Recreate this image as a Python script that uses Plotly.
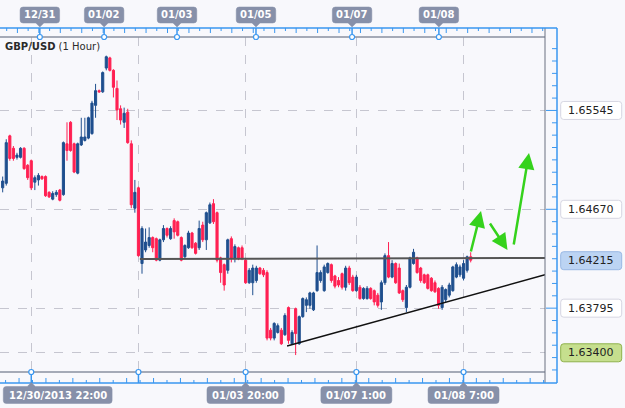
import plotly.graph_objects as go

# ---------------- data (GBP/USD, 1 hour bars) ----------------
bar_index = list(range(132))
open_ = [1.6486, 1.6490, 1.6532, 1.6521, 1.6513, 1.6513, 1.6521, 1.6506, 1.6510, 1.6491,
         1.6493, 1.6496, 1.6496, 1.6482, 1.6476, 1.6480, 1.6484, 1.6480, 1.6525, 1.6544,
         1.6525, 1.6499, 1.6524, 1.6528, 1.6530, 1.6534, 1.6559, 1.6572, 1.6571, 1.6592,
         1.6601, 1.6590, 1.6574, 1.6556, 1.6544, 1.6553, 1.6525, 1.6468, 1.6486, 1.6419,
         1.6431, 1.6435, 1.6442, 1.6441, 1.6422, 1.6440, 1.6450, 1.6441, 1.6457, 1.6456,
         1.6442, 1.6425, 1.6433, 1.6446, 1.6437, 1.6433, 1.6453, 1.6440, 1.6455, 1.6472,
         1.6464, 1.6424, 1.6418, 1.6413, 1.6441, 1.6424, 1.6433, 1.6433, 1.6422, 1.6402,
         1.6402, 1.6404, 1.6415, 1.6413, 1.6411, 1.6360, 1.6353, 1.6358, 1.6360, 1.6356,
         1.6380, 1.6348, 1.6379, 1.6348, 1.6372, 1.6382, 1.6382, 1.6378, 1.6395, 1.6404,
         1.6395, 1.6411, 1.6418, 1.6408, 1.6404, 1.6410, 1.6398, 1.6415, 1.6407, 1.6395,
         1.6398, 1.6388, 1.6388, 1.6397, 1.6395, 1.6391, 1.6385, 1.6402, 1.6426, 1.6407,
         1.6419, 1.6415, 1.6395, 1.6380, 1.6398, 1.6419, 1.6424, 1.6415, 1.6409, 1.6409,
         1.6406, 1.6402, 1.6397, 1.6380, 1.6387, 1.6391, 1.6395, 1.6407, 1.6409, 1.6406,
         1.6413, 1.6425]
high = [1.6496, 1.6529, 1.6533, 1.6523, 1.6517, 1.6522, 1.6522, 1.6507, 1.6511, 1.6497,
        1.6499, 1.6497, 1.6497, 1.6483, 1.6483, 1.6484, 1.6485, 1.6527, 1.6544, 1.6545,
        1.6526, 1.6526, 1.6548, 1.6548, 1.6549, 1.6563, 1.6578, 1.6573, 1.6589, 1.6603,
        1.6602, 1.6591, 1.6581, 1.6559, 1.6557, 1.6556, 1.6528, 1.6493, 1.6487, 1.6452,
        1.6450, 1.6451, 1.6443, 1.6442, 1.6441, 1.6453, 1.6451, 1.6452, 1.6459, 1.6457,
        1.6443, 1.6436, 1.6448, 1.6447, 1.6438, 1.6457, 1.6456, 1.6465, 1.6473, 1.6476,
        1.6465, 1.6425, 1.6419, 1.6441, 1.6443, 1.6436, 1.6434, 1.6435, 1.6424, 1.6415,
        1.6418, 1.6417, 1.6416, 1.6415, 1.6413, 1.6362, 1.6367, 1.6366, 1.6362, 1.6375,
        1.6381, 1.6360, 1.6380, 1.6373, 1.6389, 1.6389, 1.6394, 1.6394, 1.6435, 1.6413,
        1.6418, 1.6420, 1.6419, 1.6409, 1.6407, 1.6411, 1.6417, 1.6417, 1.6409, 1.6409,
        1.6400, 1.6398, 1.6399, 1.6398, 1.6396, 1.6393, 1.6404, 1.6428, 1.6438, 1.6422,
        1.6420, 1.6419, 1.6396, 1.6400, 1.6425, 1.6432, 1.6425, 1.6416, 1.6410, 1.6410,
        1.6407, 1.6404, 1.6398, 1.6400, 1.6397, 1.6402, 1.6417, 1.6420, 1.6418, 1.6422,
        1.6426, 1.6429]
low = [1.6482, 1.6488, 1.6510, 1.6510, 1.6511, 1.6512, 1.6502, 1.6493, 1.6484, 1.6484,
       1.6488, 1.6493, 1.6478, 1.6477, 1.6475, 1.6478, 1.6474, 1.6479, 1.6510, 1.6518,
       1.6499, 1.6498, 1.6523, 1.6527, 1.6529, 1.6533, 1.6548, 1.6570, 1.6570, 1.6590,
       1.6589, 1.6566, 1.6546, 1.6542, 1.6539, 1.6525, 1.6468, 1.6464, 1.6425, 1.6410,
       1.6429, 1.6433, 1.6429, 1.6421, 1.6421, 1.6438, 1.6442, 1.6440, 1.6441, 1.6443,
       1.6421, 1.6424, 1.6432, 1.6432, 1.6427, 1.6431, 1.6438, 1.6431, 1.6454, 1.6454,
       1.6420, 1.6402, 1.6395, 1.6410, 1.6420, 1.6420, 1.6422, 1.6422, 1.6401, 1.6401,
       1.6391, 1.6402, 1.6409, 1.6407, 1.6351, 1.6351, 1.6351, 1.6357, 1.6347, 1.6355,
       1.6348, 1.6347, 1.6338, 1.6347, 1.6371, 1.6376, 1.6379, 1.6377, 1.6394, 1.6402,
       1.6394, 1.6410, 1.6402, 1.6397, 1.6398, 1.6396, 1.6395, 1.6400, 1.6394, 1.6394,
       1.6387, 1.6387, 1.6387, 1.6387, 1.6382, 1.6380, 1.6378, 1.6400, 1.6406, 1.6406,
       1.6401, 1.6392, 1.6385, 1.6376, 1.6397, 1.6418, 1.6410, 1.6402, 1.6401, 1.6396,
       1.6394, 1.6393, 1.6379, 1.6378, 1.6385, 1.6389, 1.6394, 1.6406, 1.6407, 1.6404,
       1.6411, 1.6420]
close = [1.6492, 1.6526, 1.6512, 1.6512, 1.6515, 1.6521, 1.6503, 1.6495, 1.6486, 1.6495,
         1.6497, 1.6494, 1.6479, 1.6478, 1.6481, 1.6482, 1.6475, 1.6526, 1.6519, 1.6519,
         1.6500, 1.6525, 1.6531, 1.6531, 1.6548, 1.6561, 1.6572, 1.6571, 1.6588, 1.6602,
         1.6590, 1.6575, 1.6555, 1.6546, 1.6552, 1.6526, 1.6471, 1.6482, 1.6426, 1.6450,
         1.6438, 1.6442, 1.6433, 1.6422, 1.6440, 1.6450, 1.6444, 1.6450, 1.6447, 1.6444,
         1.6422, 1.6435, 1.6446, 1.6433, 1.6428, 1.6450, 1.6440, 1.6464, 1.6471, 1.6456,
         1.6422, 1.6411, 1.6400, 1.6440, 1.6424, 1.6434, 1.6424, 1.6424, 1.6402, 1.6413,
         1.6415, 1.6415, 1.6410, 1.6409, 1.6353, 1.6353, 1.6366, 1.6364, 1.6348, 1.6373,
         1.6351, 1.6358, 1.6357, 1.6372, 1.6388, 1.6387, 1.6393, 1.6393, 1.6411, 1.6411,
         1.6416, 1.6419, 1.6404, 1.6399, 1.6400, 1.6398, 1.6415, 1.6402, 1.6395, 1.6407,
         1.6388, 1.6397, 1.6397, 1.6388, 1.6385, 1.6382, 1.6402, 1.6426, 1.6407, 1.6419,
         1.6402, 1.6393, 1.6387, 1.6398, 1.6424, 1.6429, 1.6411, 1.6404, 1.6402, 1.6397,
         1.6395, 1.6394, 1.6382, 1.6398, 1.6396, 1.6400, 1.6416, 1.6418, 1.6416, 1.6419,
         1.6425, 1.6422]

# time axis labels (bar positions)
grid_bars = [8, 38, 68, 99, 129]
bottom_labels = ["12/30/2013 22:00", "", "01/03 20:00", "01/07 1:00", "01/08 7:00"]
day_positions = [10.4, 28.4, 48.8, 70.9, 97.8, 122.1]
day_labels = ["12/31", "01/02", "01/03", "01/05", "01/07", "01/08"]

# price axis
price_grid = [1.65545, 1.64670, 1.63795, 1.63400]
price_labels = [1.65545, 1.64670, 1.63795]
current_price = 1.64215
marked_low = 1.63400
minor_tick_step = 0.00109375

# drawn trend lines (bar index, price)
resistance_x = [38.4, 151.8]
resistance_y = [1.6423, 1.6424]
support_x = [79.6, 151.8]
support_y = [1.6346, 1.6409]

x_range = [-0.75, 151.8]
y_range = [1.63230, 1.66195]

# ---------------- layout geometry ----------------
W, H = 625, 408
ML, MR, MT, MB = 0, 80, 37, 36
PW, PH = W - ML - MR, H - MT - MB
BG = "#f8f8fc"
BLUE = "#3a97f0"
GRAY = "#8a90a0"
CANDLE_UP = "#1f4f8e"
CANDLE_DN = "#ff2052"
LABEL_BG = "#8790a9"
FONT = "DejaVu Sans"


def P(x, y):
    """pixel -> paper coordinates"""
    return (x - ML) / PW, (H - MB - y) / PH


def bar_px(i):
    return ML + (i - x_range[0]) / (x_range[1] - x_range[0]) * PW


def box_path(w, h, r, pointer=None, off=0.0):
    x0, x1 = -w / 2 + off, w / 2 + off
    y0, y1 = -h / 2, h / 2
    parts = [f"M {x0 + r:.2f},{y1:.2f}"]
    if pointer == "up":
        parts += [f"L -4,{y1:.2f}", f"L 0,{y1 + 4:.2f}", f"L 4,{y1:.2f}"]
    parts += [f"L {x1 - r:.2f},{y1:.2f}", f"Q {x1:.2f},{y1:.2f} {x1:.2f},{y1 - r:.2f}",
              f"L {x1:.2f},{y0 + r:.2f}", f"Q {x1:.2f},{y0:.2f} {x1 - r:.2f},{y0:.2f}"]
    if pointer == "down":
        parts += [f"L 4,{y0:.2f}", f"L 0,{y0 - 4:.2f}", f"L -4,{y0:.2f}"]
    parts += [f"L {x0 + r:.2f},{y0:.2f}", f"Q {x0:.2f},{y0:.2f} {x0:.2f},{y0 + r:.2f}",
              f"L {x0:.2f},{y1 - r:.2f}", f"Q {x0:.2f},{y1:.2f} {x0 + r:.2f},{y1:.2f}", "Z"]
    return " ".join(parts)


fig = go.Figure()
fig.add_trace(go.Candlestick(
    x=bar_index, open=open_, high=high, low=low, close=close,
    increasing=dict(line=dict(color=CANDLE_UP, width=1), fillcolor=CANDLE_UP),
    decreasing=dict(line=dict(color=CANDLE_DN, width=1), fillcolor=CANDLE_DN),
    whiskerwidth=0, hoverinfo="skip", showlegend=False,
))

shapes = []
annotations = []

# trend lines
shapes.append(dict(type="line", xref="x", yref="y", x0=resistance_x[0], x1=resistance_x[1],
                   y0=resistance_y[0], y1=resistance_y[1], line=dict(color="#555555", width=2)))
shapes.append(dict(type="line", xref="x", yref="y", x0=support_x[0], x1=support_x[1],
                   y0=support_y[0], y1=support_y[1], line=dict(color="#111111", width=1.5)))


def pline(x0, y0, x1, y1, color, width):
    a, b = P(x0, y0)
    c, d = P(x1, y1)
    shapes.append(dict(type="line", xref="paper", yref="paper", x0=a, y0=b, x1=c, y1=d,
                       line=dict(color=color, width=width)))


# frame lines
pline(0, 37, 545, 37, GRAY, 1.5)
pline(0, 372, 545, 372, GRAY, 1.5)
pline(545, 28, 545, 383, "#6a7080", 1)
pline(0, 28, 557, 28, BLUE, 1.5)
pline(0, 383, 557, 383, BLUE, 1.5)
pline(557, 28, 557, 383, BLUE, 1.5)

# top ruler ticks
segs = []
x, k = 6.7, 0
while x < 545:
    L = 5 if k % 2 else 3
    a, b = P(x, 28)
    _, d = P(x, 28 + L)
    segs.append(f"M {a:.5f},{b:.5f} L {a:.5f},{d:.5f}")
    x += 10.72
    k += 1
shapes.append(dict(type="path", xref="paper", yref="paper", path=" ".join(segs),
                   line=dict(color=BLUE, width=1)))

# bottom ruler ticks
segs = []
x, k = 5.6, 0
while x < 557:
    L = 5 if k % 2 else 3
    a, b = P(x, 383)
    _, d = P(x, 383 - L)
    segs.append(f"M {a:.5f},{b:.5f} L {a:.5f},{d:.5f}")
    x += 13.45
    k += 1
shapes.append(dict(type="path", xref="paper", yref="paper", path=" ".join(segs),
                   line=dict(color=BLUE, width=1)))

# right ruler ticks
segs = []
xa = P(557, 0)[0]
for kk in range(-5, 23):
    v = price_labels[-1] + kk * minor_tick_step
    if not (y_range[0] < v < y_range[1]):
        continue
    L = 11 if kk % 8 == 0 else 5
    xb = P(557 - L, 0)[0]
    segs.append(f"M {xb:.5f},{v:.6f} L {xa:.5f},{v:.6f}")
shapes.append(dict(type="path", xref="paper", yref="y", path=" ".join(segs),
                   line=dict(color=BLUE, width=1)))

# top day markers and labels
y28, y37, y15 = P(0, 28)[1], P(0, 37)[1], P(0, 15)[1]
for pos, lab in zip(day_positions, day_labels):
    shapes.append(dict(type="line", xref="x", yref="paper", x0=pos, x1=pos, y0=y28, y1=y37,
                       line=dict(color=BLUE, width=1.5)))
    shapes.append(dict(type="circle", xref="x", yref="paper", xsizemode="pixel", ysizemode="pixel",
                       xanchor=pos, yanchor=y37, x0=-2.5, x1=2.5, y0=-2.5, y1=2.5,
                       fillcolor="white", line=dict(color=BLUE, width=1.2)))
    w = len(lab) * 6.3 + 8
    shapes.append(dict(type="path", xref="x", yref="paper", xsizemode="pixel", ysizemode="pixel",
                       xanchor=pos, yanchor=y15, path=box_path(w, 16, 3, "down"),
                       fillcolor=LABEL_BG, line=dict(color=LABEL_BG, width=0.5)))
    annotations.append(dict(x=pos, y=y15, xref="x", yref="paper", text=f"<b>{lab}</b>",
                            showarrow=False, font=dict(family=FONT, size=10, color="white"),
                            xanchor="center", yanchor="middle"))

# bottom grid markers and labels
y372, y383, y395 = P(0, 372)[1], P(0, 383)[1], P(0, 395)[1]
for pos, lab in zip(grid_bars, bottom_labels):
    shapes.append(dict(type="line", xref="x", yref="paper", x0=pos, x1=pos, y0=y372, y1=y383,
                       line=dict(color=BLUE, width=1.5)))
    shapes.append(dict(type="circle", xref="x", yref="paper", xsizemode="pixel", ysizemode="pixel",
                       xanchor=pos, yanchor=y372, x0=-2.5, x1=2.5, y0=-2.5, y1=2.5,
                       fillcolor="white", line=dict(color=BLUE, width=1.2)))
    if not lab:
        continue
    w = len(lab) * 6.3 + 8
    off = max(0.0, (w / 2 + 3.3) - bar_px(pos))
    shapes.append(dict(type="path", xref="x", yref="paper", xsizemode="pixel", ysizemode="pixel",
                       xanchor=pos, yanchor=y395, path=box_path(w, 17, 3, "up", off),
                       fillcolor=LABEL_BG, line=dict(color=LABEL_BG, width=0.5)))
    annotations.append(dict(x=pos, y=y395, xref="x", yref="paper", xshift=off, text=f"<b>{lab}</b>",
                            showarrow=False, font=dict(family=FONT, size=10, color="white"),
                            xanchor="center", yanchor="middle"))

# right price labels
xlab = P(591.2, 0)[0]
label_specs = [(v, "white", "#d6d6e2") for v in price_labels]
label_specs.append((current_price, "#bcd4f3", "#98b8e4"))
label_specs.append((marked_low, "#c6df8e", "#8fb24c"))
for v, fill, border in label_specs:
    shapes.append(dict(type="path", xref="paper", yref="y", xsizemode="pixel", ysizemode="pixel",
                       xanchor=xlab, yanchor=v, path=box_path(61, 18, 3),
                       fillcolor=fill, line=dict(color=border, width=1)))
    annotations.append(dict(x=xlab, y=v, xref="paper", yref="y", text=f"{v:.5f}",
                            showarrow=False, font=dict(family=FONT, size=11, color="#222222"),
                            xanchor="center", yanchor="middle"))

# title
tx, ty = P(3, 46)
annotations.append(dict(x=tx, y=ty, xref="paper", yref="paper",
                        text="<b>GBP/USD</b> (1 Hour)", showarrow=False,
                        font=dict(family=FONT, size=10, color="#2a2a2a"),
                        xanchor="left", yanchor="middle"))

# green projection arrows (tip, tail in pixels)
arrows = [((481, 211), (470.5, 253)), ((507.5, 250), (489, 222)), ((529, 153), (513.5, 246))]
for (hx, hy), (sx, sy) in arrows:
    a, b = P(hx, hy)
    annotations.append(dict(x=a, y=b, xref="paper", yref="paper", text="", showarrow=True,
                            ax=sx - hx, ay=sy - hy, arrowhead=2, arrowsize=1.3, arrowwidth=2.5,
                            arrowcolor="#35d21c", standoff=0))

fig.update_layout(
    width=W, height=H,
    margin=dict(l=ML, r=MR, t=MT, b=MB, pad=0),
    paper_bgcolor=BG, plot_bgcolor=BG,
    showlegend=False, hovermode=False, boxgap=0.15,
    shapes=shapes, annotations=annotations,
    xaxis=dict(range=x_range, tickvals=grid_bars, showticklabels=False, ticks="",
               showgrid=True, gridcolor="#c6c6d0", griddash="dash", gridwidth=1,
               zeroline=False, showline=False, rangeslider=dict(visible=False), fixedrange=True),
    yaxis=dict(range=y_range, tickvals=price_grid, showticklabels=False, ticks="",
               showgrid=True, gridcolor="#c6c6d0", griddash="dash", gridwidth=1,
               zeroline=False, showline=False, fixedrange=True),
)

fig.write_html("out.html", config={"displayModeBar": False})
